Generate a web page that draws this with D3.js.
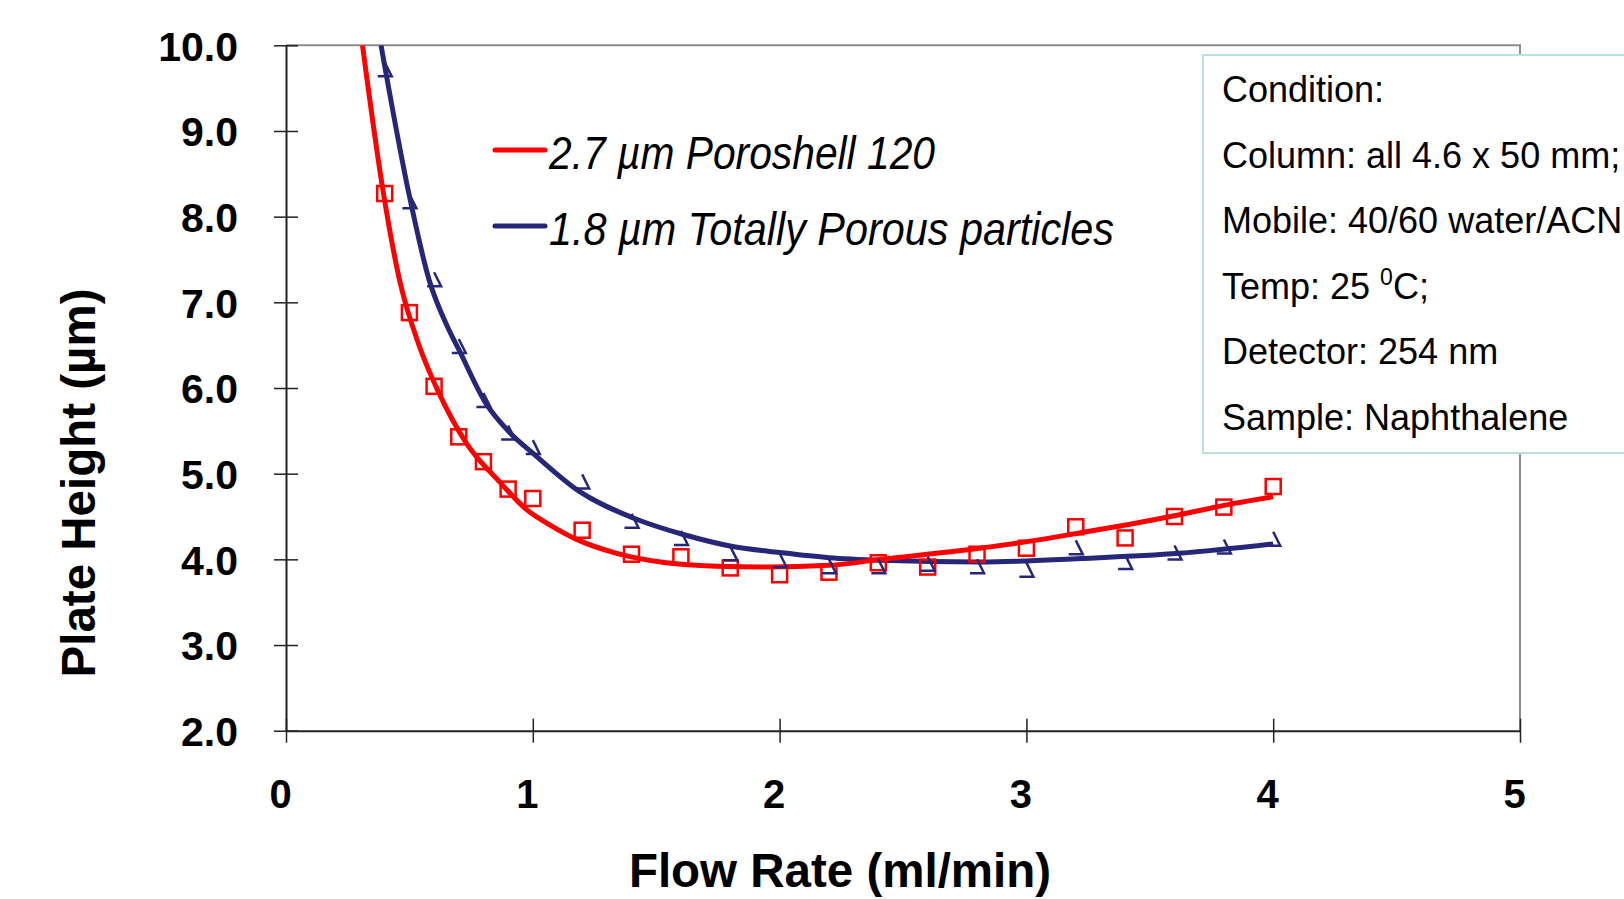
<!DOCTYPE html>
<html>
<head>
<meta charset="utf-8">
<script src="https://cdn.jsdelivr.net/npm/d3@7"></script>
<style>
  body { margin: 0; background: #fff; overflow: hidden; }
  text { font-family: "Liberation Sans", Arial, sans-serif; }
</style>
</head>
<body>
<svg id="chart" width="1624" height="899"></svg>
<script>
// measured points (flow rate in ml/min, plate height in µm)
const flow = [0.4, 0.5, 0.6, 0.7, 0.8, 0.9, 1.0, 1.2, 1.4, 1.6, 1.8, 2.0, 2.2, 2.4, 2.6, 2.8, 3.0, 3.2, 3.4, 3.6, 3.8, 4.0];
const poroshellH = [8.27, 6.88, 6.02, 5.43, 5.14, 4.82, 4.71, 4.34, 4.06, 4.03, 3.90, 3.82, 3.85, 3.96, 3.91, 4.06, 4.13, 4.38, 4.25, 4.50, 4.61, 4.85];
const porousH = [9.72, 8.18, 7.27, 6.49, 5.86, 5.48, 5.31, 4.91, 4.45, 4.25, 4.07, 3.99, 3.92, 3.92, 3.95, 3.92, 3.88, 4.14, 3.97, 4.08, 4.15, 4.24];

// fitted curves
const poroshellFitX = [0.31, 0.39, 0.46, 0.54, 0.62, 0.73, 0.87, 0.975, 1.07, 1.18, 1.34, 1.54, 1.74, 1.95, 2.2, 2.41, 2.81, 3.01, 3.22, 3.42, 3.62, 3.8, 4.0];
const poroshellFitY = [10.0, 8.36, 7.26, 6.49, 5.94, 5.36, 4.89, 4.58, 4.40, 4.23, 4.07, 3.96, 3.92, 3.91, 3.93, 4.0, 4.13, 4.21, 4.31, 4.41, 4.52, 4.63, 4.73];
const porousFitX = [0.385, 0.50, 0.58, 0.66, 0.70, 0.81, 0.91, 1.0, 1.19, 1.41, 1.61, 1.81, 2.0, 2.2, 2.41, 2.81, 3.22, 3.62, 4.0];
const porousFitY = [10.0, 8.24, 7.26, 6.68, 6.45, 5.82, 5.47, 5.24, 4.79, 4.48, 4.29, 4.15, 4.08, 4.02, 3.99, 3.97, 4.01, 4.07, 4.18];

const xTicks = [0, 1, 2, 3, 4, 5];
const yTicks = [2, 3, 4, 5, 6, 7, 8, 9, 10];
const legendLabels = ["2.7 µm Poroshell 120", "1.8 µm Totally Porous particles"];
const conditionLines = ["Condition:", "Column: all 4.6 x 50 mm;", "Mobile: 40/60 water/ACN", "Temp: 25 ", "Detector: 254 nm", "Sample: Naphthalene"];

const red = "#ff0000", navy = "#27277a";

const svg = d3.select("#chart");
const plotLeft = 286, plotRight = 1520, plotTop = 45.3, plotBottom = 730.7;

const x = d3.scaleLinear().domain([0, 5]).range([plotLeft, plotRight]);
const y = d3.scaleLinear().domain([2, 10]).range([plotBottom, plotTop]);

// frame: grey top/right
svg.append("path")
  .attr("d", `M${plotLeft},${plotTop}H${plotRight}V${plotBottom}`)
  .attr("fill", "none")
  .attr("stroke", "#8c8c8c")
  .attr("stroke-width", 2);

// axes with crossing ticks
const yAxis = svg.append("g")
  .attr("transform", `translate(${plotLeft},0)`)
  .call(d3.axisLeft(y).tickValues(yTicks).tickSize(12).tickSizeOuter(0).tickFormat(d3.format(".1f")));
yAxis.selectAll(".tick line").attr("x1", 12).attr("stroke", "#222").attr("stroke-width", 1.5);
yAxis.select(".domain").attr("stroke", "#222").attr("stroke-width", 2);
yAxis.selectAll(".tick text")
  .attr("x", -48)
  .attr("dy", "0.36em")
  .attr("font-size", 41)
  .attr("font-weight", "bold")
  .attr("fill", "#000")
  .style("font-family", "'Liberation Sans', Arial, sans-serif");

const xAxis = svg.append("g")
  .attr("transform", `translate(0,${plotBottom})`)
  .call(d3.axisBottom(x).tickValues(xTicks).tickSize(12).tickSizeOuter(0).tickFormat(d3.format("d")));
xAxis.selectAll(".tick line").attr("y1", -12).attr("stroke", "#222").attr("stroke-width", 1.5);
xAxis.select(".domain").attr("stroke", "#222").attr("stroke-width", 2);
xAxis.selectAll(".tick text")
  .attr("y", 77)
  .attr("dy", 0)
  .attr("dx", -6)
  .attr("font-size", 40)
  .attr("font-weight", "bold")
  .attr("fill", "#000")
  .style("font-family", "'Liberation Sans', Arial, sans-serif");

// axis titles
svg.append("text")
  .attr("x", 840)
  .attr("y", 887)
  .attr("text-anchor", "middle")
  .attr("font-size", 47.5)
  .attr("font-weight", "bold")
  .text("Flow Rate (ml/min)");

svg.append("text")
  .attr("transform", "translate(95,483) rotate(-90)")
  .attr("text-anchor", "middle")
  .attr("font-size", 47.5)
  .attr("font-weight", "bold")
  .text("Plate Height (µm)");

// fitted lines
const line = d3.line().x(d => x(d[0])).y(d => y(d[1])).curve(d3.curveMonotoneX);
svg.append("clipPath").attr("id", "plot")
  .append("rect").attr("x", plotLeft).attr("y", plotTop)
  .attr("width", plotRight - plotLeft).attr("height", plotBottom - plotTop);

svg.append("path")
  .datum(d3.zip(porousFitX, porousFitY))
  .attr("d", line)
  .attr("fill", "none")
  .attr("stroke", navy)
  .attr("stroke-width", 5)
  .attr("clip-path", "url(#plot)");

svg.append("path")
  .datum(d3.zip(poroshellFitX, poroshellFitY))
  .attr("d", line)
  .attr("fill", "none")
  .attr("stroke", red)
  .attr("stroke-width", 5)
  .attr("clip-path", "url(#plot)");

// markers: open squares and open (half-drawn) triangles
svg.append("g").selectAll("rect")
  .data(d3.zip(flow, poroshellH))
  .join("rect")
  .attr("x", d => x(d[0]) - 7.5)
  .attr("y", d => y(d[1]) - 7.5)
  .attr("width", 15)
  .attr("height", 15)
  .attr("fill", "none")
  .attr("stroke", red)
  .attr("stroke-width", 2.5);

svg.append("g").selectAll("path")
  .data(d3.zip(flow, porousH))
  .join("path")
  .attr("transform", d => `translate(${x(d[0])},${y(d[1])})`)
  .attr("d", "M-7,7H7L0,-7")
  .attr("fill", "none")
  .attr("stroke", navy)
  .attr("stroke-width", 2.5);

// legend
const legendColors = [red, navy];
const legendWidths = [386, 565];
const legend = svg.append("g");
legendLabels.forEach((label, i) => {
  const ly = 150 + i * 76;
  legend.append("line")
    .attr("x1", 495).attr("x2", 545)
    .attr("y1", ly).attr("y2", ly)
    .attr("stroke", legendColors[i])
    .attr("stroke-width", 5)
    .attr("stroke-linecap", "round");
  legend.append("text")
    .attr("x", 549)
    .attr("y", ly + 19)
    .attr("font-size", 47)
    .attr("font-style", "italic")
    .attr("textLength", legendWidths[i])
    .attr("lengthAdjust", "spacingAndGlyphs")
    .style("font-family", "'Liberation Sans Narrow', 'Liberation Sans', Arial, sans-serif")
    .text(label);
});

// condition box
svg.append("rect")
  .attr("x", 1203)
  .attr("y", 55)
  .attr("width", 460)
  .attr("height", 398)
  .attr("fill", "#fff")
  .attr("stroke", "#b9dfe2")
  .attr("stroke-width", 2);

const box = svg.append("g");
conditionLines.forEach((t, i) => {
  const tx = box.append("text")
    .attr("x", 1222)
    .attr("y", 102 + i * 65.6)
    .attr("font-size", 36)
    .attr("fill", "#000")
    .text(t);
  if (i === 3) {
    tx.append("tspan").attr("font-size", 23).attr("dy", -14).text("0");
    tx.append("tspan").attr("dy", 14).text("C;");
  }
});
</script>
</body>
</html>
